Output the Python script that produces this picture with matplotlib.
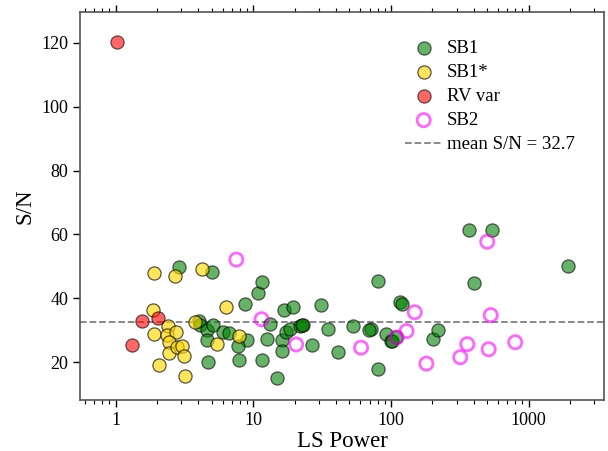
import matplotlib
matplotlib.use("Agg")
import matplotlib.pyplot as plt

plt.rcParams['font.family'] = ['Liberation Serif', 'DejaVu Serif']

# SB1 (green)
sb1_power = [2.91, 5.05, 4.04, 4.11, 4.59, 5.13, 4.64, 4.67, 6.00, 6.71, 8.68, 9.02,
             7.79, 7.89, 10.8, 11.5, 13.2, 12.6, 11.6, 14.8, 16.8, 19.6, 16.1, 16.1,
             17.2, 18.5, 21.9, 369, 542, 1923, 401, 80.2, 30.9, 116, 120, 23.1, 22.5,
             34.9, 53.3, 71.6, 69.3, 92.1, 99.6, 102, 109, 26.6, 41.1, 80.2, 202, 219]
sb1_sn = [49.9, 48.2, 32.9, 31.6, 29.9, 31.6, 26.9, 19.9, 29.3, 29.0, 38.1, 26.9,
          25.1, 20.7, 41.5, 45.0, 31.9, 27.2, 20.7, 14.9, 36.3, 37.3, 26.9, 23.4,
          29.5, 30.2, 31.3, 61.5, 61.5, 50.2, 44.8, 45.4, 38.0, 38.7, 38.1, 31.5, 31.6,
          30.2, 31.4, 30.4, 30.0, 28.9, 26.7, 26.6, 27.7, 25.2, 23.1, 17.7, 27.3, 30.0]

# SB1* (yellow)
sb1s_power = [1.91, 2.69, 4.27, 1.86, 1.91, 2.39, 2.37, 2.77, 2.46, 2.45, 2.78, 3.06,
              3.13, 2.06, 3.18, 3.76, 5.43, 6.38, 7.89]
sb1s_sn = [47.9, 47.0, 49.2, 36.4, 28.8, 31.2, 28.5, 29.5, 26.2, 22.9, 24.8, 25.1,
           21.8, 19.2, 15.6, 32.4, 25.7, 37.1, 28.2]

# RV var (red)
rv_power = [1.025, 1.56, 2.04, 1.32]
rv_sn = [120.3, 32.9, 33.8, 25.3]

# SB2 (magenta open)
sb2_power = [7.54, 11.5, 20.5, 501, 531, 149, 130, 110, 60.7, 181, 319, 359, 513, 800]
sb2_sn = [52.1, 33.4, 25.5, 57.7, 34.7, 35.6, 29.7, 27.7, 24.5, 19.5, 21.5, 25.6, 24.0, 26.2]

mean_sn = 32.7

fig = plt.figure(figsize=(6.08, 4.51), dpi=100)
ax = fig.add_axes([80/608, 1-400/451, (604-80)/608, (400-12)/451])

s = 90
ax.scatter(sb1_power, sb1_sn, s=s, c='green', alpha=0.6, edgecolors='black', linewidths=0.9, label='SB1', zorder=3)
ax.scatter(sb1s_power, sb1s_sn, s=s, c='gold', alpha=0.65, edgecolors='black', linewidths=0.9, label='SB1*', zorder=3)
ax.scatter(rv_power, rv_sn, s=s, c='red', alpha=0.6, edgecolors='black', linewidths=0.9, label='RV var', zorder=3)
ax.scatter(sb2_power, sb2_sn, s=s, facecolors='none', edgecolors='magenta', alpha=0.6, linewidths=2, label='SB2', zorder=3)
ax.axhline(mean_sn, color='gray', linestyle='--', linewidth=1.3, label=f'mean S/N = {mean_sn}', zorder=2)

ax.set_xscale('log')
ax.set_xlim(0.552, 3530)
ax.set_ylim(8.1, 129.7)
ax.set_yticks([20, 40, 60, 80, 100, 120])
ax.set_xticks([1, 10, 100, 1000])
ax.set_xticklabels(['1', '10', '100', '1000'])

ax.set_xlabel('LS Power', fontsize=16.5, labelpad=1.5)
ax.set_ylabel('S/N', fontsize=16.5, labelpad=4)
ax.tick_params(axis='both', which='major', labelsize=13, direction='out', length=5, width=1)
ax.tick_params(axis='x', which='minor', direction='out', length=3, width=0.8)
ax.tick_params(axis='x', which='both', top=True)
ax.tick_params(axis='y', which='both', right=False)
for sp in ax.spines.values():
    sp.set_color('#555555')
    sp.set_linewidth(1.2)

ax.legend(loc='upper right', bbox_to_anchor=(0.9765, 0.972), frameon=False, fontsize=13.5,
          handletextpad=0.24, labelspacing=0.37)

fig.savefig('out.png', dpi=100)
